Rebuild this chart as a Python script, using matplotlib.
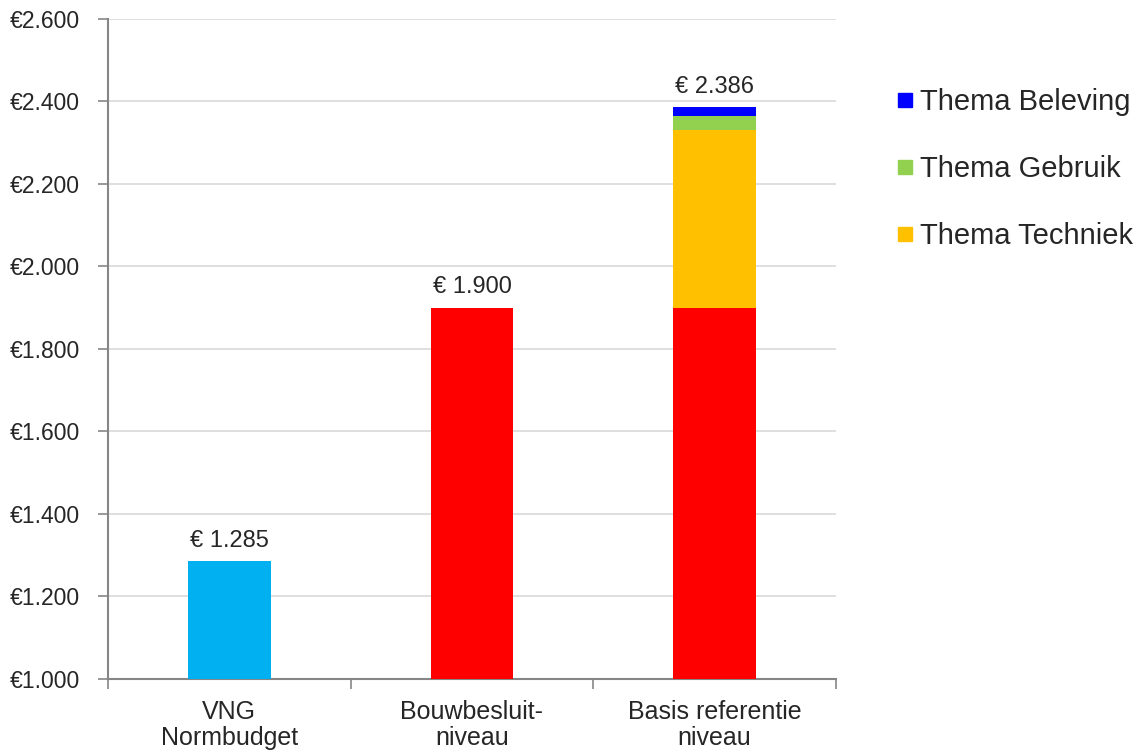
import matplotlib.pyplot as plt
from matplotlib.lines import Line2D
from matplotlib.ticker import FuncFormatter, FixedLocator

plt.rcParams['font.family'] = ['Liberation Sans', 'DejaVu Sans']

categories = ["VNG\nNormbudget", "Bouwbesluit-\nniveau", "Basis referentie\nniveau"]
base_values = [1285, 1900, 1900]
base_colors = ["#00B0F0", "#FF0000", "#FF0000"]
techniek = [0, 0, 432]
gebruik = [0, 0, 34]
beleving = [0, 0, 20]
totals = [1285, 1900, 2386]
total_labels = ["€ 1.285", "€ 1.900", "€ 2.386"]

TEXT = "#262626"
SPINE = "#868686"

fig = plt.figure(figsize=(11.46, 7.53), dpi=100)
ax = fig.add_axes([0.0942, 0.0983, 0.6353, 0.8765])

x = range(len(categories))
w = 0.34
ax.bar(x, [b - 1000 for b in base_values], bottom=1000, width=w, color=base_colors, zorder=3)
b1 = [b for b in base_values]
ax.bar(x, techniek, bottom=b1, width=w, color="#FFC000", zorder=3)
b2 = [b + t for b, t in zip(b1, techniek)]
ax.bar(x, gebruik, bottom=b2, width=w, color="#92D050", zorder=3)
b3 = [b + g for b, g in zip(b2, gebruik)]
ax.bar(x, beleving, bottom=b3, width=w, color="#0000FF", zorder=3)

for i, (t, lab) in enumerate(zip(totals, total_labels)):
    ax.annotate(lab, (i, t), xytext=(0, 7), textcoords="offset points",
                ha="center", va="bottom", fontsize=17, color=TEXT)

ax.set_ylim(1000, 2600)
ax.set_xlim(-0.5, 2.5)
ax.set_yticks(range(1000, 2601, 200))
ax.yaxis.set_major_formatter(FuncFormatter(lambda v, p: "€{:,.0f}".format(v).replace(",", ".")))
ax.grid(axis="y", color="#D9D9D9", linewidth=1.2, zorder=0)

ax.set_xticks(list(x))
ax.set_xticklabels(categories, fontsize=18, color=TEXT, linespacing=1.12)
ax.xaxis.set_minor_locator(FixedLocator([-0.5, 0.5, 1.5, 2.5]))
ax.tick_params(axis="x", which="major", length=0, pad=15)
ax.tick_params(axis="x", which="minor", length=7, color=SPINE, width=1.2)
ax.tick_params(axis="y", length=7, color=SPINE, width=1.2, labelsize=16.5, labelcolor=TEXT, pad=13)

for s in ["top", "right"]:
    ax.spines[s].set_visible(False)
for s in ["left", "bottom"]:
    ax.spines[s].set_color(SPINE)
    ax.spines[s].set_linewidth(1.5)

handles = [Line2D([], [], marker="s", linestyle="", markersize=10, color=c)
           for c in ["#0000FF", "#92D050", "#FFC000"]]
labels = ["Thema Beleving", "Thema Gebruik", "Thema Techniek"]
fig.legend(handles, labels, loc="upper left", bbox_to_anchor=(0.772, 0.898),
           frameon=False, fontsize=21, labelspacing=1.33, handletextpad=0.2,
           handlelength=0.6, labelcolor=TEXT, borderaxespad=0)

fig.savefig("out.png", dpi=100)
